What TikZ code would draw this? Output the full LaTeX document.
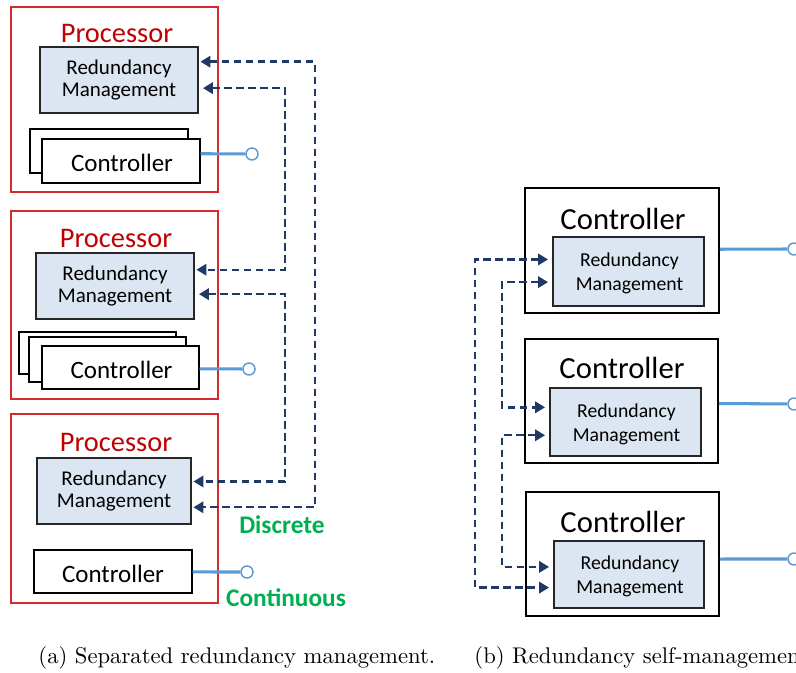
\documentclass[tikz,border=0pt]{standalone}
\usepackage{fontspec}
\newfontfamily\diag{Carlito}
\usetikzlibrary{arrows.meta,fit,calc}

\definecolor{procred}{HTML}{D42A2F}
\definecolor{proctext}{HTML}{C00000}
\definecolor{rmfill}{HTML}{DCE6F2}
\definecolor{wire}{HTML}{5B9BD5}
\definecolor{navy}{HTML}{203864}
\definecolor{sig}{HTML}{00B050}

\tikzset{
  procbox/.style={draw=procred, line width=1.1pt, inner sep=0pt},
  proclabel/.style={text=proctext, inner sep=0pt, font=\diag\fontsize{21.3}{24}\selectfont},
  rmbox/.style={draw=black!85, fill=rmfill, line width=1.4pt, inner sep=0pt},
  rmlabel/.style={inner sep=0pt, align=center, font=\diag\fontsize{15.75}{16.5}\selectfont},
  rmlabelr/.style={rmlabel, font=\diag\fontsize{14.8}{18}\selectfont},
  ctlbox/.style={draw=black, fill=white, line width=1.1pt, inner sep=0pt},
  ctltext/.style={inner sep=0pt, font=\diag\fontsize{18.75}{20}\selectfont},
  ctlouter/.style={draw=black, fill=white, line width=1.4pt, inner sep=0pt},
  ctllabel/.style={inner sep=0pt, font=\diag\fontsize{23}{26}\selectfont},
  port/.style={circle, draw=wire, fill=white, line width=1.1pt, minimum size=9pt, inner sep=0pt},
  wirelink/.style={draw=wire, line width=2.3pt},
  dlink/.style={draw=navy, line width=1.8pt, dash pattern=on 5.5pt off 3.5pt,
    arrows={Triangle[length=7.5pt,width=8.5pt]-Triangle[length=7.5pt,width=8.5pt]}},
  sigtext/.style={text=sig, inner sep=0pt, font=\diag\bfseries\fontsize{19}{22}\selectfont},
  captext/.style={inner sep=0pt, scale=1.7, font=\fontsize{10}{12}\selectfont},
}

\begin{document}
\begin{tikzpicture}[x=0.75pt,y=-0.75pt]
\clip (0,0) rectangle (796,673);

% ---------- (a) separated redundancy management ----------
% processors
\node[procbox, fit={(11,7) (218,192)}] (p1) {};
\node[procbox, fit={(11,211) (218,399)}] (p2) {};
\node[procbox, fit={(11,414) (218,603)}] (p3) {};
\node[proclabel] (p1t) at (117,33) {Processor};
\node[proclabel] (p2t) at (116,238) {Processor};
\node[proclabel] (p3t) at (116,442) {Processor};

% redundancy management blocks
\node[rmbox, fit={(40,47) (198,113)}] (rm1) {};
\node[rmbox, fit={(36,253) (194,319)}] (rm2) {};
\node[rmbox, fit={(37,458) (191,524)}] (rm3) {};
\node[rmlabel] (rm1t) at (rm1.center) {Redundancy\\Management};
\node[rmlabel] (rm2t) at (rm2.center) {Redundancy\\Management};
\node[rmlabel] (rm3t) at (rm3.center) {Redundancy\\Management};

% controllers (stacked copies behind)
\node[ctlbox, fit={(30,129) (188,173)}] (c1b) {};
\node[ctlbox, fit={(42,139) (200,183)}] (c1) {};
\node[ctlbox, fit={(19,332) (176,374)}] (c2c) {};
\node[ctlbox, fit={(29,337) (186,382)}] (c2b) {};
\node[ctlbox, fit={(42,346) (199,389)}] (c2) {};
\node[ctlbox, fit={(34,550) (192,593)}] (c3) {};
\node[ctltext] (c1t) at ($(c1.center)+(1,2)$) {Controller};
\node[ctltext] (c2t) at ($(c2.center)+(1,2)$) {Controller};
\node[ctltext] (c3t) at ($(c3.center)+(0,2)$) {Controller};

% continuous outputs
\node[port] (o1) at (252,154) {};
\node[port] (o2) at (249,369) {};
\node[port] (o3) at (247,572) {};
\draw[wirelink] ($(c1.north east)!0.34!(c1.south east)$) -- (o1);
\draw[wirelink] ($(c2.north east)!0.53!(c2.south east)$) -- (o2);
\draw[wirelink] ($(c3.north east)!0.51!(c3.south east)$) -- (o3);

% discrete links between redundancy managers
\coordinate (vo) at (315,0);
\coordinate (vi) at (285,0);
\coordinate (a1a) at ($(rm1.north east)!0.23!(rm1.south east)+(1.5,0)$);
\coordinate (a1b) at ($(rm1.north east)!0.62!(rm1.south east)+(4,0)$);
\coordinate (a2a) at ($(rm2.north east)!0.26!(rm2.south east)+(1.5,0)$);
\coordinate (a2b) at ($(rm2.north east)!0.62!(rm2.south east)+(4,0)$);
\coordinate (a3a) at ($(rm3.north east)!0.36!(rm3.south east)+(1.5,0)$);
\coordinate (a3b) at ($(rm3.north east)!0.74!(rm3.south east)+(1.5,0)$);
\draw[dlink] (a1a) -- (a1a -| vo) |- (a3b);
\draw[dlink] (a1b) -- (a1b -| vi) |- (a2a);
\draw[dlink] (a2b) -- (a2b -| vi) |- (a3a);

\node[sigtext] (disc) at (282,525) {Discrete};
\node[sigtext] (cont) at (286,598) {Continuous};

% ---------- (b) redundancy self-management ----------
\node[ctlouter, fit={(525,188) (719,313)}] (k1) {};
\node[ctlouter, fit={(525,339) (718,463)}] (k2) {};
\node[ctlouter, fit={(526,492) (719,616)}] (k3) {};
\node[ctllabel] (k1t) at (623,219) {Controller};
\node[ctllabel] (k2t) at (622,368) {Controller};
\node[ctllabel] (k3t) at (623,522) {Controller};

\node[rmbox, fit={(553,237) (704,306)}] (s1) {};
\node[rmbox, fit={(550,388) (701,456)}] (s2) {};
\node[rmbox, fit={(554,541) (704,608)}] (s3) {};
\node[rmlabelr] (s1t) at ($(s1.center)+(1,2)$) {Redundancy\\Management};
\node[rmlabelr] (s2t) at ($(s2.center)+(1,2)$) {Redundancy\\Management};
\node[rmlabelr] (s3t) at ($(s3.center)+(1,2)$) {Redundancy\\Management};

\node[port] (q1) at (794,249) {};
\node[port] (q2) at (794,404) {};
\node[port] (q3) at (794,559) {};
\draw[wirelink] ($(k1.north east)!0.49!(k1.south east)$) -- (q1);
\draw[wirelink] ($(k2.north east)!0.52!(k2.south east)$) -- (q2);
\draw[wirelink] ($(k3.north east)!0.54!(k3.south east)$) -- (q3);

\coordinate (wo) at (475,0);
\coordinate (wi) at (502,0);
\coordinate (b1a) at ($(s1.north west)!0.33!(s1.south west)+(-4,0)$);
\coordinate (b1b) at ($(s1.north west)!0.65!(s1.south west)+(-4,0)$);
\coordinate (b2a) at ($(s2.north west)!0.29!(s2.south west)+(-4,0)$);
\coordinate (b2b) at ($(s2.north west)!0.69!(s2.south west)+(-4,0)$);
\coordinate (b3a) at ($(s3.north west)!0.39!(s3.south west)+(-4,0)$);
\coordinate (b3b) at ($(s3.north west)!0.69!(s3.south west)+(-4,0)$);
\draw[dlink] (b1a) -- (b1a -| wo) |- (b3b);
\draw[dlink] (b1b) -- (b1b -| wi) |- (b2a);
\draw[dlink] (b2b) -- (b2b -| wi) |- (b3a);

% captions
\node[captext, anchor=base west] (capa) at (38,663) {(a) Separated redundancy management.};
\node[captext, anchor=base west] (capb) at (474,663) {(b) Redundancy self-management.};
\end{tikzpicture}
\end{document}
